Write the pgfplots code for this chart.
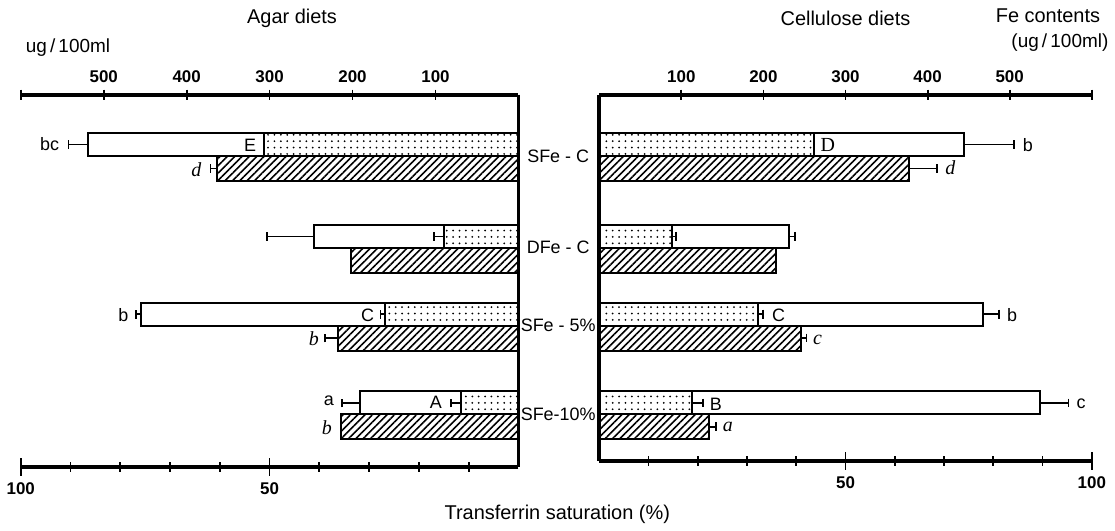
\documentclass[border=0pt]{standalone}
\usepackage{fontspec}
\setmainfont{Liberation Sans}
\newfontfamily\serif{Liberation Serif}
\usepackage{pgfplots}
\pgfplotsset{compat=1.18}
\usetikzlibrary{patterns.meta}

% 1 px of the reference = 0.5pt; y values are pixel rows of the reference
\pgfplotsset{
  base/.style={scale only axis, anchor=south west, clip=false,
    tick align=center, major tick length=5pt,
    tick style={line width=0.9pt, black},
    xticklabel style={font=\fontsize{8.5}{10}\selectfont\bfseries},
    /pgf/number format/assume math mode=true},
  bars/.style={base, xmin=0, xmax=100, y dir=reverse, hide y axis,
    axis x line=bottom, x axis line style={-, line width=1.8pt},
    xbar, bar shift=0pt,
    xtick={10,20,30,40,60,70,80,90}, xticklabels={},
    extra x ticks={50,100}, extra x tick labels={50,100},
    extra x tick style={major tick length=9pt}},
  top/.style={base, xmin=0, xmax=600, ymin=0, ymax=1, hide y axis,
    axis x line=top, x axis line style={-, line width=1.8pt},
    xtick={100,200,...,600},
    xticklabels={100,200,300,400,500,}},
  ebar/.style={error bars/.cd, x dir=plus, x explicit, error mark=|,
    error bar style={line width=0.8pt, black},
    error mark options={line width=0.8pt, mark size=2.2pt, black}},
  whitebar/.style={fill=white, draw=black, line width=1pt, bar width=23},
  dotbar/.style={draw=black, line width=1pt, bar width=23,
    pattern={Dots[distance=3.2pt, radius=0.5pt]}},
  hatchbar/.style={draw=black, line width=1pt, bar width=25,
    pattern={Lines[angle=45, distance=2.6pt, line width=0.8pt]}},
}
\newcommand{\lt}[1]{\fontsize{9}{10}\selectfont #1}
\newcommand{\itl}[1]{\fontsize{10}{11}\selectfont\serif\itshape #1}

\begin{document}
\begin{tikzpicture}
\path (-9pt,-29.5pt) rectangle (548.5pt,234pt);

% ---------------- Agar diets ----------------
\begin{axis}[bars, at={(0,0)}, width=249.5pt, height=186.5pt,
  x dir=reverse, ymin=95, ymax=468]
\addplot[whitebar, ebar] coordinates {
  (86.4,145) +- (4.0,0) (41.1,237) +- (9.4,0)
  (75.8,315) +- (1.0,0) (31.9,404) +- (3.6,0)};
\addplot[dotbar] coordinates {(51.1,145)};
\addplot[dotbar, ebar] coordinates {
  (15.0,237) +- (2.0,0) (26.9,315) +- (0.8,0) (11.6,404) +- (2.0,0)};
\addplot[hatchbar, ebar] coordinates {
  (60.5,169) +- (1.4,0) (36.3,339) +- (2.6,0)};
\addplot[hatchbar] coordinates {(33.7,261) (35.7,428)};
\draw[line width=1.8pt] (axis cs:0,95) -- (axis cs:0,468);
% significance letters
\node at (axis cs:94.2,144) {\lt{bc}};
\node at (axis cs:53.9,146) {\lt{E}};
\node at (axis cs:64.7,170) {\itl{d}};
\node at (axis cs:79.4,316) {\lt{b}};
\node at (axis cs:30.3,316) {\lt{C}};
\node at (axis cs:41.1,340) {\itl{b}};
\node at (axis cs:38.1,402) {\lt{a}};
\node at (axis cs:16.6,403) {\lt{A}};
\node at (axis cs:38.5,429) {\itl{b}};
% group names between the panels
\node at (axis cs:-8.0,156.5) {\lt{SFe - C}};
\node at (axis cs:-8.0,248.5) {\lt{DFe - C}};
\node at (axis cs:-8.0,326.5) {\lt{SFe - 5\%}};
\node at (axis cs:-8.0,415.5) {\lt{SFe-10\%}};
\end{axis}
\begin{axis}[top, at={(0,0)}, width=249.5pt, height=186.5pt, x dir=reverse]
\end{axis}

% ---------------- Cellulose diets ----------------
\begin{axis}[bars, at={(290pt,3pt)}, width=247pt, height=183.5pt,
  ymin=95, ymax=462]
\addplot[whitebar, ebar] coordinates {
  (74.1,145) +- (10.1,0) (38.5,237) +- (1.2,0)
  (77.9,315) +- (3.3,0) (89.5,404) +- (5.8,0)};
\addplot[dotbar] coordinates {(43.7,145)};
\addplot[dotbar, ebar] coordinates {
  (14.8,237) +- (0.8,0) (32.2,315) +- (1.0,0) (18.8,404) +- (2.3,0)};
\addplot[hatchbar, ebar] coordinates {
  (62.8,169) +- (5.8,0) (40.9,339) +- (1.2,0) (22.3,428) +- (1.4,0)};
\addplot[hatchbar] coordinates {(35.8,261)};
\draw[line width=1.8pt] (axis cs:0,95) -- (axis cs:0,462);
\node at (axis cs:46.4,145) {\fontsize{10}{11}\selectfont\serif D};
\node at (axis cs:87.0,145) {\lt{b}};
\node at (axis cs:71.3,168) {\itl{d}};
\node at (axis cs:36.4,316) {\lt{C}};
\node at (axis cs:83.8,316) {\lt{b}};
\node at (axis cs:44.3,341) {\itl{c}};
\node at (axis cs:23.7,405) {\lt{B}};
\node at (axis cs:97.8,405) {\lt{c}};
\node at (axis cs:26.1,428) {\itl{a}};
\end{axis}
\begin{axis}[top, at={(290pt,3pt)}, width=247pt, height=183.5pt]
\end{axis}

% ---------------- titles ----------------
\node[font=\fontsize{10}{12}\selectfont] at (136pt,225pt) {Agar diets};
\node[font=\fontsize{9.5}{11}\selectfont, anchor=west] at (-1pt,210pt) {ug\,/\,100ml};
\node[font=\fontsize{10}{12}\selectfont] at (413.5pt,225pt) {Cellulose diets};
\node[font=\fontsize{10}{12}\selectfont] at (515pt,226pt) {Fe contents};
\node[font=\fontsize{9.5}{11}\selectfont] at (521pt,212.5pt) {(ug\,/\,100ml)};
\node[font=\fontsize{10}{12}\selectfont] at (269pt,-24pt) {Transferrin saturation (\%)};
\end{tikzpicture}
\end{document}
